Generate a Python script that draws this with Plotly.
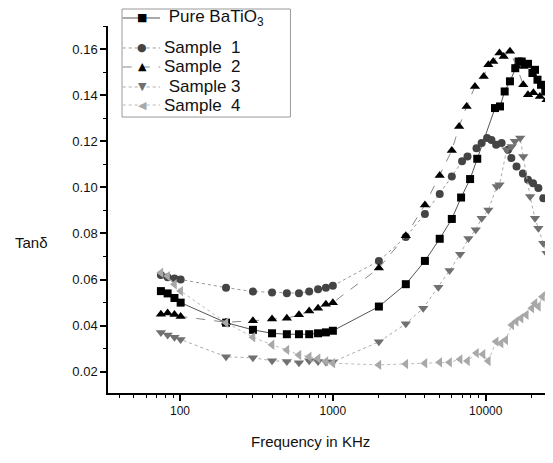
import plotly.graph_objects as go

# ---- data ----
pure_freq = [75, 83, 92, 101, 200, 300, 400, 500, 600, 700, 800, 900, 1000,
             2000, 3000, 4000, 5000, 6000, 6900, 7900, 8800, 11500, 12400, 13300,
             14400, 15600, 16400, 17200, 17900, 18900, 20200, 21000, 21800, 23000,
             24500, 26000, 27000]
pure_tan = [0.055, 0.054, 0.052, 0.050, 0.0413, 0.0382, 0.0367, 0.0363, 0.0363, 0.0363,
            0.0367, 0.0371, 0.0378, 0.0483, 0.058, 0.0681, 0.0777, 0.0863, 0.0956,
            0.1036, 0.1124, 0.1344, 0.1351, 0.1416, 0.146, 0.1517, 0.1546, 0.1546,
            0.1532, 0.1536, 0.1496, 0.151, 0.1467, 0.1445, 0.1416, 0.139, 0.1373]

s1_freq = [75, 83, 92, 101, 200, 300, 400, 500, 600, 700, 800, 900, 1000,
           2000, 3000, 4000, 5000, 6000, 7000, 7600, 8700, 9400, 10200, 10900,
           11700, 12700, 14000, 14700, 15900, 17500, 18900, 20400, 22100, 23800, 26200]
s1_tan = [0.062, 0.061, 0.0605, 0.060, 0.0565, 0.0548, 0.0544, 0.0541, 0.0541, 0.0548,
          0.0558, 0.0565, 0.0573, 0.0681, 0.0785, 0.0884, 0.0971, 0.1047, 0.1113,
          0.1134, 0.117, 0.1192, 0.1214, 0.1206, 0.1185, 0.1192, 0.1163, 0.1127,
          0.109, 0.106, 0.1033, 0.1018, 0.0997, 0.0953, 0.0946]

s2_freq = [75, 83, 92, 101, 200, 300, 400, 500, 600, 700, 800, 900, 1000,
           2000, 3000, 4000, 5000, 6000, 6700, 7500, 8500, 9700, 10400, 11200,
           12300, 13100, 14400, 15900, 17600, 18900, 20500, 22600, 25000, 26800]
s2_tan = [0.045, 0.0455, 0.0448, 0.044, 0.0415, 0.0421, 0.0429, 0.0432, 0.0447, 0.0464,
          0.0476, 0.0493, 0.050, 0.065, 0.079, 0.0924, 0.1051, 0.116, 0.1264, 0.1351,
          0.1438, 0.1481, 0.1532, 0.1546, 0.1583, 0.1568, 0.159, 0.1525, 0.1445,
          0.1402, 0.141, 0.1394, 0.138, 0.1358]

s3_freq = [75, 83, 92, 101, 200, 300, 400, 500, 600, 700, 800, 900, 1000,
           2000, 3000, 3900, 4900, 5800, 6800, 7700, 8600, 9400, 10400, 11800,
           12300, 13700, 14800, 15500, 16800, 17600, 19500, 21000, 22100, 23800,
           25000, 26300]
s3_tan = [0.037, 0.036, 0.035, 0.034, 0.0265, 0.0261, 0.0248, 0.0245, 0.0239, 0.0248,
          0.0245, 0.0243, 0.0243, 0.033, 0.0408, 0.0476, 0.0567, 0.0639, 0.071,
          0.0778, 0.0816, 0.0866, 0.0902, 0.1004, 0.1011, 0.1163, 0.1177, 0.120,
          0.1214, 0.1134, 0.096, 0.0866, 0.0823, 0.0758, 0.0714, 0.0642]

s4_freq = [75, 83, 92, 101, 200, 300, 400, 500, 600, 700, 800, 900, 1000,
           2000, 3000, 4000, 5000, 5800, 6800, 7600, 8700, 9600, 10400, 11700,
           12600, 13500, 14800, 15800, 17000, 18400, 20000, 21000, 22100, 23500,
           25000, 26500]
s4_tan = [0.063, 0.0615, 0.058, 0.055, 0.0413, 0.035, 0.0317, 0.0295, 0.0273, 0.0265,
          0.0258, 0.0245, 0.0237, 0.023, 0.0234, 0.0237, 0.0241, 0.0241, 0.0254,
          0.0247, 0.0281, 0.0276, 0.0247, 0.0331, 0.0324, 0.0338, 0.0403, 0.0418,
          0.0432, 0.0447, 0.0476, 0.0497, 0.0483, 0.0526, 0.054, 0.0555]

series_names = [" Pure BaTiO<sub>3</sub>", "Sample  1", "Sample  2", " Sample 3", "Sample  4"]
y_ticks = [0.02, 0.04, 0.06, 0.08, 0.10, 0.12, 0.14, 0.16]
x_ticks = [100, 1000, 10000]
x_tick_labels = ["100", "1000", "10000"]

# ---- figure ----
fig = go.Figure()

styles = [
    dict(symbol="square", glyph="■", color="#000000", size=8, lcolor="#555555", dash="solid"),
    dict(symbol="circle", glyph="●", color="#444444", size=8, lcolor="#999999", dash="dot"),
    dict(symbol="triangle-up", glyph="▲", color="#000000", size=9, lcolor="#888888", dash="dash"),
    dict(symbol="triangle-down", glyph="▼", color="#707070", size=9, lcolor="#aaaaaa", dash="dot"),
    dict(symbol="triangle-left", glyph="◀", color="#a8a8a8", size=9, lcolor="#bbbbbb", dash="dot"),
]
data = [(pure_freq, pure_tan), (s1_freq, s1_tan), (s2_freq, s2_tan),
        (s3_freq, s3_tan), (s4_freq, s4_tan)]

for (fx, fy), name, st in zip(data, series_names, styles):
    fig.add_trace(go.Scatter(
        x=fx, y=fy, mode="lines+markers", name=name, showlegend=False,
        line=dict(color=st["lcolor"], width=1, dash=st["dash"]),
        marker=dict(symbol=st["symbol"], color=st["color"], size=st["size"],
                    line=dict(width=0)),
    ))

minor_x = []
for dec in [10, 100, 1000, 10000]:
    for k in range(2, 10):
        v = k * dec
        if 34 <= v <= 27000:
            minor_x.append(v)

# ---- hand-drawn legend box (paper coordinates) ----
shapes = [dict(type="rect", xref="paper", yref="paper",
               x0=0.0315, x1=0.41, y0=0.752, y1=1.0463,
               line=dict(color="#999999", width=1), fillcolor="rgba(0,0,0,0)")]
annotations = []
row_y = [1.0218, 0.9401, 0.8883, 0.8338, 0.7847]
for ry, name, st in zip(row_y, series_names, styles):
    shapes.append(dict(type="line", xref="paper", yref="paper",
                       x0=0.033, x1=0.117, y0=ry, y1=ry,
                       line=dict(color=st["lcolor"], width=1, dash=st["dash"])))
    annotations.append(dict(text=st["glyph"], xref="paper", yref="paper",
                            x=0.0775, y=ry, xanchor="center", yanchor="middle",
                            showarrow=False,
                            font=dict(family="DejaVu Sans", size=11, color=st["color"])))
    annotations.append(dict(text=name, xref="paper", yref="paper",
                            x=0.122, y=ry, xanchor="left", yanchor="middle",
                            showarrow=False,
                            font=dict(size=17, color="#111111")))

annotations += [
    dict(text="Frequency in KHz", xref="paper", yref="paper",
         x=0.454, y=-0.1335, xanchor="center", yanchor="middle",
         showarrow=False, font=dict(size=15, color="#111111")),
    dict(text="Tanδ", xref="paper", yref="paper",
         x=-0.172, y=0.409, xanchor="center", yanchor="middle",
         showarrow=False, font=dict(size=15, color="#111111")),
]

fig.update_layout(
    width=545, height=455,
    margin=dict(l=100, r=0, t=18, b=70),
    paper_bgcolor="white", plot_bgcolor="white",
    font=dict(family="Liberation Sans, Arial, sans-serif", color="#111111"),
    showlegend=False,
    xaxis=dict(
        type="log", range=[1.529, 4.44],
        showgrid=False, zeroline=False,
        showline=True, linecolor="black", linewidth=1.5,
        ticks="outside", ticklen=6, tickwidth=1.5, tickcolor="black",
        tickmode="array", tickvals=x_ticks, ticktext=x_tick_labels,
        tickfont=dict(size=12, color="#111111"),
        minor=dict(ticks="outside", ticklen=3, tickwidth=1, tickcolor="black",
                   tickmode="array", tickvals=minor_x, showgrid=False),
    ),
    yaxis=dict(
        range=[0.0108, 0.17],
        showgrid=False, zeroline=False,
        showline=True, linecolor="black", linewidth=1.5,
        ticks="outside", ticklen=6, tickwidth=1.5, tickcolor="black",
        tickmode="array", tickvals=y_ticks, ticktext=[f"{v:.2f}" for v in y_ticks],
        tickfont=dict(size=13, color="#111111"),
        minor=dict(ticks="outside", ticklen=3, tickwidth=1, tickcolor="black",
                   dtick=0.01, tick0=0.01, showgrid=False),
    ),
    shapes=shapes,
    annotations=annotations,
)

fig.write_html("out.html")
